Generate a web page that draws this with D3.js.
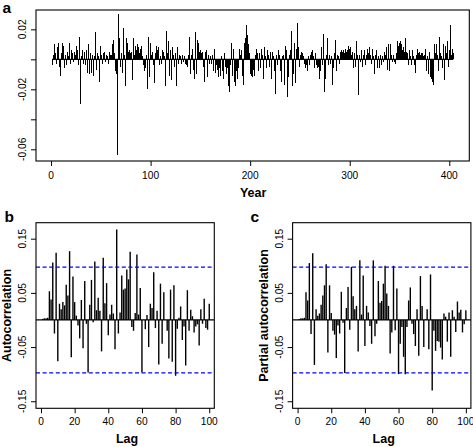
<!DOCTYPE html>
<html><head><meta charset="utf-8">
<script src="https://cdn.jsdelivr.net/npm/d3@7"></script>
<style>
body{margin:0;background:#fff}
svg{display:block}
text{font-family:"Liberation Sans",Arial,Helvetica,sans-serif;fill:#000}
</style>
</head><body>
<svg id="chart" width="473" height="447"></svg>
<script>
// ---------- DATA ----------
// Panel a: annual series (years 1..404)
const seriesValues = [
-.004,.003,.010,.004,-.003,.008,.011,.006,-.005,-.011,
.004,.011,.009,-.006,.003,-.004,.005,.002,.011,-.003,
.006,.004,-.002,.005,.003,.009,.006,-.004,.015,-.030,
.002,.006,-.003,.005,-.004,.006,-.009,.010,-.010,.004,
-.009,.003,-.011,.002,.018,-.007,.004,.002,-.015,.009,
.003,-.003,.004,.005,-.002,.003,.002,-.003,.005,.003,
.003,.010,.013,.004,-.008,-.010,-.064,.030,.014,-.005,
.004,-.009,.021,.003,-.018,.014,.011,.005,.006,.004,
.005,-.014,.014,.003,.009,.006,.010,.008,.004,.007,
.009,.002,-.004,-.008,-.006,.003,-.020,.015,-.012,.011,
.003,.005,-.004,-.016,.004,.009,.006,.008,-.004,.002,
-.003,.006,.005,.002,-.018,.019,.004,.012,-.011,.006,
-.014,.008,.003,-.005,.004,-.018,.008,-.003,.003,.002,
-.003,.003,-.002,.002,-.003,-.004,-.005,.003,.015,-.010,
.003,.007,-.007,-.013,.018,-.010,.013,.011,.005,.006,
.004,.005,-.005,-.015,.005,.006,-.012,.003,-.003,.002,
-.003,.003,-.008,.007,-.009,-.004,-.007,-.012,-.006,-.011,
.002,-.008,-.013,.004,-.005,-.010,-.006,-.018,-.022,-.004,
.011,-.011,.007,-.015,-.018,-.008,-.013,-.006,.007,.003,
.006,-.011,-.017,.011,.014,.023,.016,.010,.004,-.010,
-.011,-.012,-.007,-.011,.003,.007,.004,-.008,.004,-.006,
.007,.003,-.013,.008,.002,-.006,.006,.003,-.005,.005,
-.013,.005,.002,-.008,-.023,.003,-.004,.006,.003,-.008,
-.015,.002,.003,-.017,.009,.003,.006,-.025,-.012,.003,
.006,.019,-.018,-.010,.011,-.016,.007,.024,.008,-.005,
.003,.005,.004,.002,-.003,-.006,-.004,-.008,.002,-.004,
.003,.005,.006,.002,-.006,.004,-.004,-.006,-.005,-.013,
-.008,.008,-.004,.017,-.022,-.013,.003,.014,-.004,.003,
-.003,.002,-.017,-.006,.004,.013,-.008,.003,.002,-.003,
.005,.006,.005,.006,.004,.007,.005,.006,.009,.007,
.008,.003,.005,-.006,.004,-.005,.012,.003,-.024,.003,
-.002,.006,-.005,.003,.006,-.004,.003,.007,.004,.008,
.003,-.003,.007,.002,-.010,.003,.006,-.006,.002,-.006,
.003,-.004,.002,-.002,.005,.003,.008,-.007,.010,-.008,
.010,.003,-.002,.003,-.002,-.003,.004,.012,.009,.011,
.012,.010,.006,.008,.005,.014,.005,.004,-.004,.006,
.002,-.004,.006,.002,-.004,-.009,.003,.007,.004,.005,
.003,.004,.004,.002,.003,.007,-.008,.002,-.010,.005,
-.012,-.013,-.015,-.017,.010,.004,.010,.003,-.008,.015,
.004,.002,-.006,.010,-.014,.009,.004,.012,-.005,.006,
.023,.003,.007,.004
];
const years = seriesValues.map((v, i) => i + 1);

// Panel b: autocorrelation, lags 1..100
const acfValues = [
.002,.003,.003,.004,.053,.038,.106,-.025,.124,-.076,
.030,.020,.033,.027,.065,.045,.127,-.069,.080,.033,
.008,-.010,-.034,.037,-.052,.072,-.007,-.097,.028,.074,
-.004,.108,.018,.041,.017,-.058,.115,.031,.068,-.028,
.010,.028,.012,-.054,.167,-.025,.014,.082,.056,.058,
.093,.075,.126,-.013,-.020,.013,.121,.010,.059,-.097,
.000,-.017,.009,-.050,.030,.022,.088,-.015,.017,-.082,
.067,-.044,.051,.000,-.020,-.071,.056,-.077,.064,-.103,
-.016,.004,.025,-.037,-.012,-.084,.055,-.020,.019,.007,
-.023,-.012,-.008,-.047,.020,-.007,.039,-.015,-.018,.030
];
// Panel c: partial autocorrelation, lags 1..100
const pacfValues = [
.002,.003,.003,.004,.051,.036,.105,-.026,.123,-.083,
.020,.008,.012,.028,.045,.064,.103,-.060,.064,.013,
-.020,-.027,-.070,-.010,-.025,.052,-.005,-.098,.022,.061,
-.018,.098,.044,.020,.026,-.058,.110,.010,.082,-.048,
.026,.014,-.011,-.044,.110,-.030,-.007,.072,.032,.035,
.067,.100,.049,.026,-.062,-.023,.100,-.019,.058,-.100,
-.044,-.013,-.068,-.100,-.013,.036,.060,-.007,-.026,-.048,
.020,-.066,.081,.026,-.050,.001,.020,-.054,.084,-.130,
-.020,-.057,-.039,-.040,-.051,-.073,.012,.006,-.040,.014,
-.068,.018,.006,-.022,.034,.014,.019,-.023,-.008,.018
];
const lags = acfValues.map((v, i) => i + 1);
const confLimit = 0.0975;

// tick values / labels
const aYTicks = [-0.06, -0.04, -0.02, 0, 0.02];
const aYLabels = ["-0.06", "", "-0.02", "", "0.02"];
const aXTicks = [0, 100, 200, 300, 400];
const cYTicks = [-0.15, -0.05, 0.05, 0.15];
const cYLabels = ["-0.15", "-0.05", "0.05", "0.15"];
const cXTicks = [0, 20, 40, 60, 80, 100];

// ---------- DRAW ----------
const svg = d3.select("#chart");
const tickFont = 10.2, titleFont = 12.5, letterFont = 15.5;

function leftAxis(g, scale, x0, ticks, labels) {
  g.append("g").attr("transform", `translate(${x0},0)`)
    .call(d3.axisLeft(scale).tickValues(ticks).tickSize(5).tickSizeOuter(0).tickFormat(""))
    .call(s => s.select(".domain").remove())
    .call(s => s.selectAll(".tick line").attr("stroke", "#000").attr("stroke-width", 1));
  ticks.forEach((t, i) => {
    if (!labels[i]) return;
    const y = scale(t), x = x0 - 9.5;
    g.append("text").attr("x", x).attr("y", y)
      .attr("transform", `rotate(-90,${x},${y})`)
      .attr("text-anchor", "middle").attr("font-size", tickFont).text(labels[i]);
  });
}
function bottomAxis(g, scale, y0, ticks, baseY) {
  g.append("g").attr("transform", `translate(0,${y0})`)
    .call(d3.axisBottom(scale).tickValues(ticks).tickSize(5).tickSizeOuter(0).tickFormat(""))
    .call(s => s.select(".domain").remove())
    .call(s => s.selectAll(".tick line").attr("stroke", "#000").attr("stroke-width", 1));
  ticks.forEach(t => {
    g.append("text").attr("x", scale(t)).attr("y", baseY)
      .attr("text-anchor", "middle").attr("font-size", tickFont).text(t);
  });
}

// Panel a
{
  const L = 36, R = 469.3, T = 10, B = 161;
  const x = d3.scaleLinear().domain([-15.1, 420.1]).range([L, R]);
  const y = d3.scaleLinear().domain([-0.0678, 0.0329]).range([B, T]);
  const g = svg.append("g");
  g.append("line").attr("x1", x(years[0])).attr("x2", x(years[years.length - 1]))
    .attr("y1", y(0)).attr("y2", y(0)).attr("stroke", "#000").attr("stroke-width", 1.3);
  g.selectAll("line.bar").data(seriesValues).join("line").attr("class", "bar")
    .attr("x1", (d, i) => x(years[i])).attr("x2", (d, i) => x(years[i]))
    .attr("y1", y(0)).attr("y2", d => y(d))
    .attr("stroke", "#000").attr("stroke-width", 1).attr("shape-rendering", "crispEdges");
  g.append("rect").attr("x", L).attr("y", T).attr("width", R - L).attr("height", B - T)
    .attr("fill", "none").attr("stroke", "#000").attr("stroke-width", 1.1);
  leftAxis(g, y, L, aYTicks, aYLabels);
  bottomAxis(g, x, B, aXTicks, 178.5);
  g.append("text").attr("x", (x(0) + x(400)) / 2 + 3).attr("y", 197)
    .attr("text-anchor", "middle").attr("font-size", titleFont).attr("font-weight", "bold").text("Year");
  g.append("text").attr("x", 2.5).attr("y", 12.5).attr("font-size", letterFont)
    .attr("font-weight", "bold").text("a");
}

// Panels b and c
function corrPanel(L, R, vals, title, titleX, letter, letterX) {
  const T = 222.7, B = 408.3;
  const x = d3.scaleLinear().domain([-2.96, 103]).range([L, R]);
  const y = d3.scaleLinear().domain([-0.163, 0.1795]).range([B, T]);
  const g = svg.append("g");
  g.append("line").attr("x1", L).attr("x2", R).attr("y1", y(0)).attr("y2", y(0))
    .attr("stroke", "#000").attr("stroke-width", 1.3);
  g.selectAll("line.bar").data(vals).join("line").attr("class", "bar")
    .attr("x1", (d, i) => x(lags[i])).attr("x2", (d, i) => x(lags[i]))
    .attr("y1", y(0)).attr("y2", d => y(d))
    .attr("stroke", "#000").attr("stroke-width", 1.4);
  [confLimit, -confLimit].forEach(c => {
    g.append("line").attr("x1", L).attr("x2", R).attr("y1", y(c)).attr("y2", y(c))
      .attr("stroke", "#0000ff").attr("stroke-width", 1.3).attr("stroke-dasharray", "4,2.6");
  });
  g.append("rect").attr("x", L).attr("y", T).attr("width", R - L).attr("height", B - T)
    .attr("fill", "none").attr("stroke", "#000").attr("stroke-width", 1.1);
  leftAxis(g, y, L, cYTicks, cYLabels);
  bottomAxis(g, x, B, cXTicks, 424.5);
  g.append("text").attr("x", (x(0) + x(100)) / 2 + 2).attr("y", 442.5)
    .attr("text-anchor", "middle").attr("font-size", titleFont).attr("font-weight", "bold").text("Lag");
  const cy = (T + B) / 2;
  g.append("text").attr("x", titleX).attr("y", cy)
    .attr("transform", `rotate(-90,${titleX},${cy})`)
    .attr("text-anchor", "middle").attr("font-size", titleFont).attr("font-weight", "bold").text(title);
  g.append("text").attr("x", letterX).attr("y", 221.5).attr("font-size", letterFont)
    .attr("font-weight", "bold").text(letter);
}
corrPanel(36, 214.3, acfValues, "Autocorrelation", 10.5, "b", 4.5);
corrPanel(292.6, 470.9, pacfValues, "Partial autocorrelation", 267.5, "c", 250.5);
</script>
</body></html>
